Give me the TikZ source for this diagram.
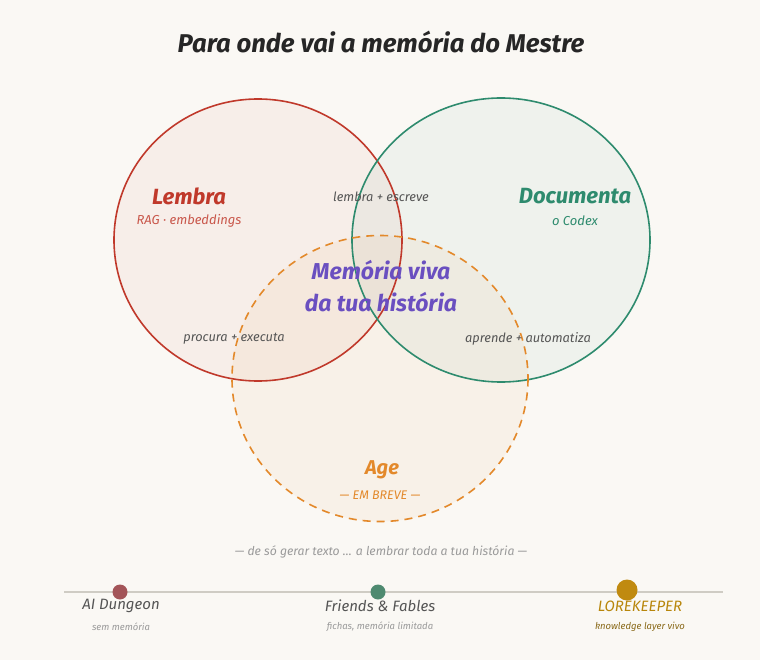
\documentclass[tikz,border=0pt]{standalone}
\usepackage{fontspec}
\setmainfont{Fira Sans}
\definecolor{bg}{HTML}{FAF8F4}
\definecolor{cred}{HTML}{C0392B}
\definecolor{cgreen}{HTML}{2E8B6E}
\definecolor{corange}{HTML}{E3892B}
\definecolor{cpurple}{HTML}{6A4FC0}
\definecolor{cgray}{HTML}{555555}
\definecolor{clight}{HTML}{9A9A9A}
\definecolor{cline}{HTML}{CFCCC4}
\definecolor{dmaroon}{HTML}{A35458}
\definecolor{dgreen}{HTML}{4E8A70}
\definecolor{dgold}{HTML}{C08A10}
\definecolor{tgold}{HTML}{B8860B}
\definecolor{tgold2}{HTML}{8A6A1A}
\tikzset{
  ring/.style={line width=1.6pt},
  head/.style={font=\fontsize{22}{26}\selectfont\bfseries\itshape},
  sub/.style={font=\fontsize{13}{15}\selectfont\itshape},
  lab/.style={font=\fontsize{12.8}{15}\selectfont\itshape, text=cgray},
  center/.style={font=\fontsize{23}{32}\selectfont\bfseries\itshape, text=cpurple, align=center},
  dot/.style={circle, inner sep=0pt},
  tname/.style={font=\fontsize{15}{18}\selectfont\itshape},
  tsub/.style={font=\fontsize{9.5}{11}\selectfont\itshape},
}
\begin{document}
\begin{tikzpicture}[x=1pt,y=-1pt]
\fill[bg] (0,0) rectangle (760,660);
\useasboundingbox (0,0) rectangle (760,660);
% circle fills
\fill[cred, opacity=0.05] (258,240) ellipse [x radius=144, y radius=141];
\fill[cgreen, opacity=0.05] (501,240) ellipse [x radius=149, y radius=142];
\fill[corange, opacity=0.06] (380,378.5) ellipse [x radius=148, y radius=143];
% circle outlines
\draw[ring, cred] (258,240) ellipse [x radius=144, y radius=141];
\draw[ring, cgreen] (501,240) ellipse [x radius=149, y radius=142];
\draw[ring, corange, dash pattern=on 8pt off 6pt] (380,378.5) ellipse [x radius=148, y radius=143];
% title
\node[font=\fontsize{25.7}{30}\selectfont\bfseries\itshape, text=black!85] (title) at (381,42) {Para onde vai a memória do Mestre};
% labels
\node[head, text=cred] (lembra) at (189,196) {Lembra};
\node[sub, text=cred!85] (lembrasub) at (189,221) {RAG · embeddings};
\node[head, text=cgreen] (doc) at (575,196) {Documenta};
\node[sub, text=cgreen] (docsub) at (575,221) {o Codex};
\node[head, text=corange, font=\fontsize{20}{24}\selectfont\bfseries\itshape] (age) at (382,470) {Age};
\node[sub, text=corange, font=\fontsize{12.5}{14}\selectfont\itshape] (agesub) at (380,495) {— EM BREVE —};
\node[lab] (le) at (381,197) {lembra + escreve};
\node[lab] (pe) at (234,339) {procura + executa};
\node[lab] (aa) at (528,339) {aprende + automatiza};
\node[center] (mv) at (381,286) {Memória viva\\da tua história};
% tagline
\node[font=\fontsize{12.2}{14}\selectfont\itshape, text=clight] (tag) at (381,552) {— de só gerar texto ... a lembrar toda a tua história —};
% timeline
\coordinate (tl) at (64,592);
\coordinate (tr) at (723,592);
\draw[cline, line width=2.5pt] (tl) -- (tr);
\node[dot, fill=dmaroon, minimum size=15pt] (d1) at (120,592) {};
\node[dot, fill=dgreen, minimum size=15pt] (d2) at (378,592) {};
\node[dot, fill=dgold, minimum size=21pt] (d3) at (627,590) {};
\node[tname, text=cgray] (n1) at (121,606) {AI Dungeon};
\node[tsub, text=clight] (s1) at (121,627) {sem memória};
\node[tname, text=cgray] (n2) at (380,606) {Friends \& Fables};
\node[tsub, text=clight] (s2) at (380,627) {fichas, memória limitada};
\node[tname, text=tgold] (n3) at (640,606) {LOREKEEPER};
\node[tsub, text=tgold2] (s3) at (640,627) {knowledge layer vivo};
\end{tikzpicture}
\end{document}
